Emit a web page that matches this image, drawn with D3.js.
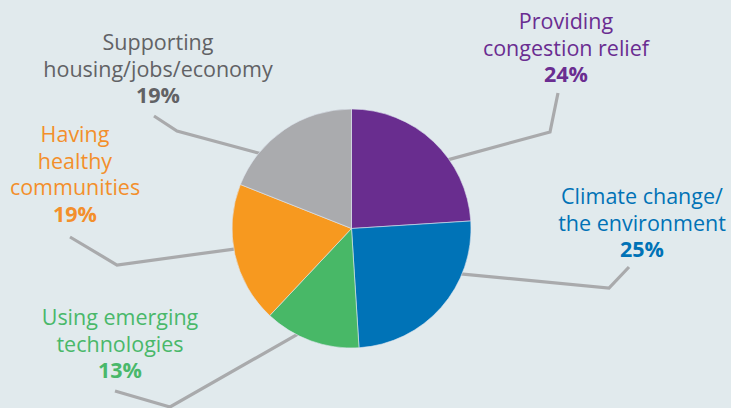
<!DOCTYPE html>
<html>
<head>
<meta charset="utf-8">
<script src="https://cdn.jsdelivr.net/npm/d3@7"></script>
<style>
  html, body { margin: 0; padding: 0; background: #e1eaed; }
  svg { display: block; }
  text { font-family: "Open Sans", "Noto Sans", sans-serif; }
</style>
</head>
<body>
<div id="chart"></div>
<script>
// slices, clockwise from 12 o'clock
const categories = ["Providing congestion relief", "Climate change/ the environment", "Using emerging technologies", "Having healthy communities", "Supporting housing/jobs/economy"]
const labelLines = [
    ["Providing", "congestion relief"],
    ["Climate change/", "the environment"],
    ["Using emerging", "technologies"],
    ["Having", "healthy", "communities"],
    ["Supporting", "housing/jobs/economy"]
]
const values = [24, 25, 13, 19, 19]
const colors = ["#692d8f", "#0073b7", "#48b867", "#f7991f", "#aaabae"]
const textColors = ["#6a2d91", "#0072b6", "#49b86a", "#f38f2b", "#616265"]

const width = 731
const height = 408
const cx = 351.5
const cy = 228.5
const radius = 119.5
const lineH = 26.5

// label layout: leader start angle (deg, clockwise from top), elbow, end, text centre / first baseline
const layout = [
    { angle: 54, elbow: [550, 132], end: [558, 93], tx: 566, ty: 29 },
    { angle: 113, elbow: [609, 288], end: [629, 267], tx: 642, ty: 204 },
    { angle: 206, elbow: [170, 407], end: [115, 391], tx: 120, ty: 325 },
    { angle: 260, elbow: [117, 265], end: [70, 237], tx: 75, ty: 142 },
    { angle: 310, elbow: [177, 131], end: [154, 116], tx: 158, ty: 50 }
]

const svg = d3.select("#chart")
    .append("svg")
    .attr("width", width)
    .attr("height", height)
    .style("background", "#e1eaed")

const pie = d3.pie().sort(null).value(d => d)
const arc = d3.arc().innerRadius(0).outerRadius(radius)
const arcs = pie(values)

// leader lines
const lineGen = d3.line()
svg.append("g")
    .selectAll("path")
    .data(layout)
    .join("path")
    .attr("d", d => {
        let a = d.angle * Math.PI / 180
        let start = [cx + (radius - 4) * Math.sin(a), cy - (radius - 4) * Math.cos(a)]
        return lineGen([start, d.elbow, d.end])
    })
    .attr("fill", "none")
    .attr("stroke", "#a9aaac")
    .attr("stroke-width", 3.2)

svg.append("g")
    .attr("transform", `translate(${cx},${cy})`)
    .selectAll("path")
    .data(arcs)
    .join("path")
    .attr("d", arc)
    .attr("fill", (d, i) => colors[i])
    .attr("stroke", "#dfe6f0")
    .attr("stroke-width", 0.6)

// labels
const labels = svg.append("g")
    .selectAll("text")
    .data(categories)
    .join("text")
    .attr("text-anchor", "middle")
    .attr("font-size", 21.5)
    .attr("fill", (d, i) => textColors[i])

labels.each(function (d, i) {
    let t = d3.select(this)
    let L = layout[i]
    labelLines[i].forEach((s, j) => {
        t.append("tspan")
            .attr("x", L.tx)
            .attr("y", L.ty + j * lineH)
            .text(s)
    })
    t.append("tspan")
        .attr("x", L.tx)
        .attr("y", L.ty + labelLines[i].length * lineH)
        .attr("font-weight", "bold")
        .text(values[i] + "%")
})
</script>
</body>
</html>
